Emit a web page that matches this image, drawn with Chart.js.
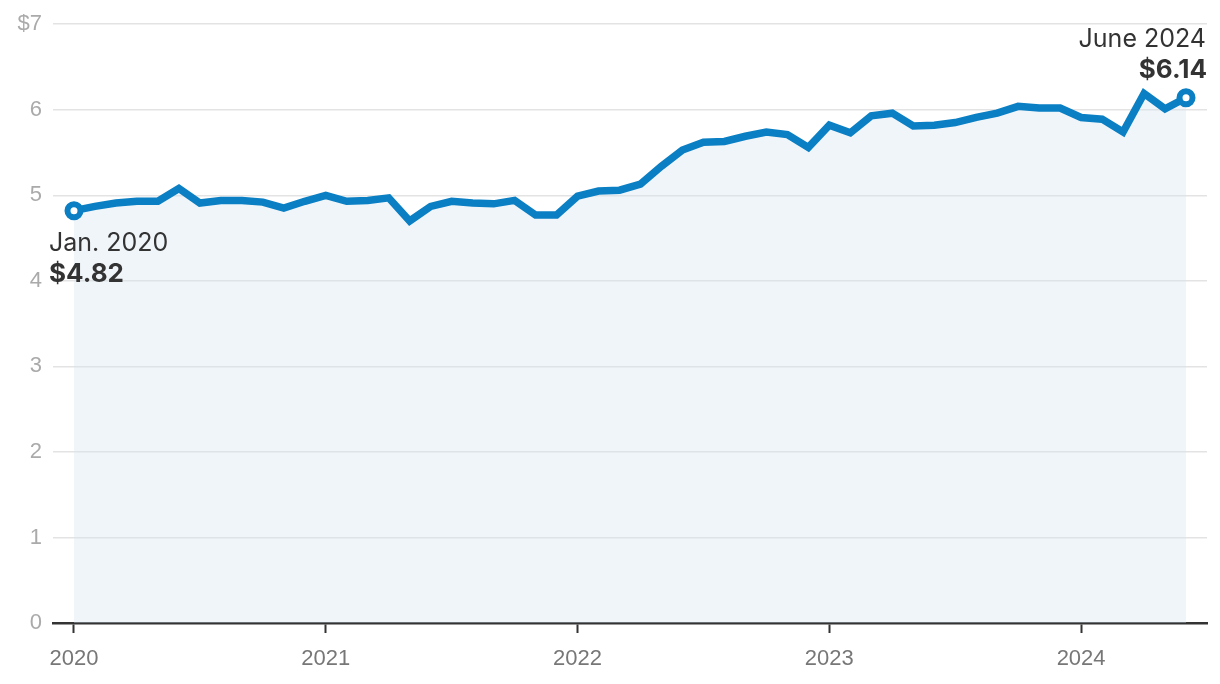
<!DOCTYPE html>
<html lang="en">

<head>
    <meta charset="UTF-8" />
    <title>Price</title>
    <script src="https://cdn.jsdelivr.net/npm/chart.js"></script>
    <style>
        html, body { margin: 0; padding: 0; background: #fff; }
        #wrap { width: 1220px; height: 684px; }
    </style>
</head>

<body>
    <div id="wrap"><canvas id="chart"></canvas></div>
    <script>
        // monthly average price, Jan 2020 .. June 2024
        const prices = [
            4.82, 4.87, 4.91, 4.93, 4.93, 5.08, 4.91, 4.94, 4.94, 4.92, 4.85, 4.93,
            5.00, 4.93, 4.94, 4.97, 4.70, 4.87, 4.93, 4.91, 4.90, 4.94, 4.77, 4.77,
            4.99, 5.05, 5.06, 5.13, 5.34, 5.53, 5.62, 5.63, 5.69, 5.74, 5.71, 5.56,
            5.82, 5.73, 5.93, 5.96, 5.81, 5.82, 5.85, 5.91, 5.96, 6.04, 6.02, 6.02,
            5.91, 5.89, 5.74, 6.19, 6.01, 6.14
        ];
        const monthIndex = prices.map((p, i) => i);
        const yearTicks = [0, 12, 24, 36, 48];
        const yearLabels = ["2020", "2021", "2022", "2023", "2024"];
        const firstLabel = ["Jan. 2020", "$4.82"];
        const lastLabel = ["June 2024", "$6.14"];

        const blue = "#0a7fc3";
        const last = prices.length - 1;

        const endLabels = {
            id: "endLabels",
            afterDatasetsDraw(chart) {
                const pts = chart.getDatasetMeta(0).data;
                const ctx = chart.ctx;
                const a = pts[0], b = pts[last];
                ctx.save();
                ctx.fillStyle = "#333";
                ctx.textBaseline = "alphabetic";

                ctx.textAlign = "left";
                ctx.font = "400 25px Inter";
                ctx.fillText(firstLabel[0], a.x - 25, a.y + 40);
                ctx.font = "700 26px Inter";
                ctx.fillText(firstLabel[1], a.x - 25, a.y + 71);

                ctx.textAlign = "right";
                ctx.font = "400 25px Inter";
                ctx.fillText(lastLabel[0], b.x + 20, b.y - 51);
                ctx.font = "700 26px Inter";
                ctx.fillText(lastLabel[1], b.x + 21, b.y - 20);
                ctx.restore();
            }
        };

        var ctx = document.getElementById("chart").getContext("2d");
        var myChart = new Chart(ctx, {
            type: "line",
            data: {
                labels: monthIndex,
                datasets: [{
                    data: monthIndex.map((i) => ({ x: i, y: prices[i] })),
                    borderColor: blue,
                    borderWidth: 7.5,
                    borderJoinStyle: "miter",
                    tension: 0,
                    fill: "origin",
                    backgroundColor: "rgba(212,226,240,0.35)",
                    pointRadius: (c) => (c.dataIndex === 0 || c.dataIndex === last ? 6.5 : 0),
                    pointBorderWidth: 6,
                    pointBackgroundColor: "#fff",
                    pointBorderColor: blue,
                    pointHoverRadius: 0,
                }],
            },
            plugins: [endLabels],
            options: {
                responsive: true,
                maintainAspectRatio: false,
                animation: false,
                events: [],
                layout: { padding: { top: 24, right: 13, bottom: 0, left: 0 } },
                plugins: {
                    legend: { display: false },
                    tooltip: { enabled: false },
                },
                scales: {
                    x: {
                        type: "linear",
                        min: -1,
                        max: 54,
                        afterBuildTicks: (scale) => {
                            scale.ticks = yearTicks.map((v) => ({ value: v }));
                        },
                        afterFit: (scale) => { scale.height = 61; },
                        ticks: {
                            autoSkip: false,
                            maxRotation: 0,
                            padding: 13,
                            color: "#777",
                            font: { family: "Liberation Sans", size: 22 },
                            callback: (v) => yearLabels[yearTicks.indexOf(v)],
                        },
                        grid: {
                            drawOnChartArea: false,
                            drawTicks: true,
                            tickLength: 10,
                            tickWidth: 2,
                            color: "#333",
                        },
                        border: { display: true, color: "#333", width: 2.5 },
                    },
                    y: {
                        min: 0,
                        max: 7,
                        afterFit: (scale) => { scale.width = 53; },
                        ticks: {
                            stepSize: 1,
                            padding: 11,
                            color: "#aaa",
                            font: { family: "Liberation Sans", size: 22 },
                            callback: (v) => (v === 7 ? "$" + v : v),
                        },
                        grid: {
                            drawTicks: false,
                            color: "#e3e3e3",
                            lineWidth: 1.5,
                        },
                        border: { display: false },
                    },
                },
            },
        });
    </script>
</body>

</html>
